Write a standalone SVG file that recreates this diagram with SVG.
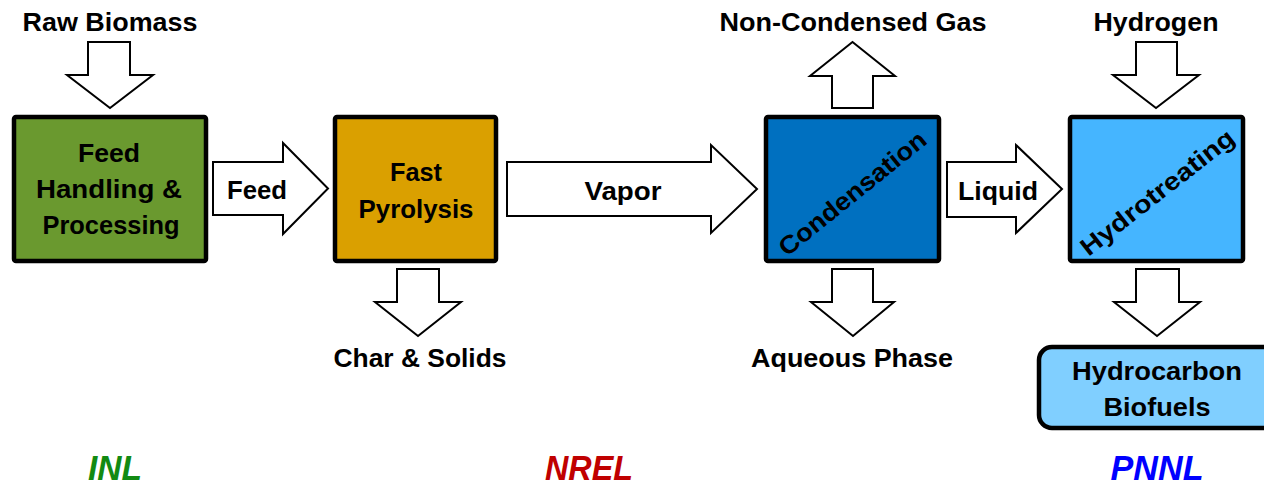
<svg xmlns="http://www.w3.org/2000/svg" width="1264" height="488" viewBox="0 0 1264 488">
<style>
.box{stroke:#000;stroke-width:4.5;}
.arr{fill:#fff;stroke:#000;stroke-width:2;stroke-linejoin:miter;}
.t{font-family:"Liberation Sans",Arial,sans-serif;font-weight:bold;font-size:25px;fill:#000;text-anchor:middle;}
.lab{font-family:"Liberation Sans",Arial,sans-serif;font-weight:bold;font-style:italic;font-size:35px;text-anchor:middle;}
</style>
<rect width="1264" height="488" fill="#fff"/>
<g id="connectors">
<polygon class="arr" points="88,42 130,42 130,75 153,75 110,108 67,75 88,75"/>
<polygon class="arr" points="213,162 283,162 283,143 328,188.5 283,234 283,215 213,215"/>
<polygon class="arr" points="397,269 439,269 439,302 461,302 418,336 375,302 397,302"/>
<polygon class="arr" points="507,162 711,162 711,145 757,189 711,233 711,216 507,216"/>
<polygon class="arr" points="832,108 873,108 873,76 895,76 852.5,42 810,76 832,76"/>
<polygon class="arr" points="832,269 873,269 873,302 894,302 853,336 811,302 832,302"/>
<polygon class="arr" points="947,162 1016,162 1016,145 1062,189 1016,233 1016,217 947,217"/>
<polygon class="arr" points="1136,42 1177,42 1177,75 1199,75 1156,108 1113,75 1136,75"/>
<polygon class="arr" points="1136,269 1179,269 1179,302 1200,302 1157,336 1114,302 1136,302"/>
</g>
<g id="labels">
<text class="t" x="110" y="31" textLength="175" lengthAdjust="spacingAndGlyphs">Raw Biomass</text>
<text class="t" x="257" y="199" textLength="60" lengthAdjust="spacingAndGlyphs">Feed</text>
<text class="t" x="420" y="367" textLength="173" lengthAdjust="spacingAndGlyphs">Char &amp; Solids</text>
<text class="t" x="623" y="200" textLength="77" lengthAdjust="spacingAndGlyphs">Vapor</text>
<text class="t" x="853" y="31" textLength="267" lengthAdjust="spacingAndGlyphs">Non-Condensed Gas</text>
<text class="t" x="852" y="367" textLength="202" lengthAdjust="spacingAndGlyphs">Aqueous Phase</text>
<text class="t" x="998" y="200" textLength="80" lengthAdjust="spacingAndGlyphs">Liquid</text>
<text class="t" x="1156" y="31" textLength="125" lengthAdjust="spacingAndGlyphs">Hydrogen</text>
<text class="lab" x="115" y="480" fill="#128a12" textLength="54" lengthAdjust="spacingAndGlyphs">INL</text>
<text class="lab" x="589" y="480" fill="#c00000" textLength="88" lengthAdjust="spacingAndGlyphs">NREL</text>
<text class="lab" x="1157" y="480" fill="#0000ff" textLength="93" lengthAdjust="spacingAndGlyphs">PNNL</text>
</g>
<g id="feed-handling">
<rect class="box" x="14" y="117" width="192" height="144" rx="2" fill="#6a992f"/>
<text class="t" x="109" y="162" textLength="62" lengthAdjust="spacingAndGlyphs">Feed</text>
<text class="t" x="109" y="198" textLength="146" lengthAdjust="spacingAndGlyphs">Handling &amp;</text>
<text class="t" x="111" y="234" textLength="137" lengthAdjust="spacingAndGlyphs">Processing</text>
</g>
<g id="fast-pyrolysis">
<rect class="box" x="335" y="117" width="161" height="144" rx="2" fill="#daa000"/>
<text class="t" x="416" y="181" textLength="52" lengthAdjust="spacingAndGlyphs">Fast</text>
<text class="t" x="416" y="218" textLength="115" lengthAdjust="spacingAndGlyphs">Pyrolysis</text>
</g>
<g id="condensation">
<rect class="box" x="766" y="117" width="173" height="144" rx="2" fill="#0070c0"/>
<text class="t" transform="translate(852,193) rotate(-39)" x="0" y="9" textLength="182" lengthAdjust="spacingAndGlyphs">Condensation</text>
</g>
<g id="hydrotreating">
<rect class="box" x="1070" y="117" width="173" height="144" rx="2" fill="#45b5ff"/>
<text class="t" transform="translate(1157,192) rotate(-38)" x="0" y="9" textLength="188" lengthAdjust="spacingAndGlyphs">Hydrotreating</text>
</g>
<g id="hydrocarbon-biofuels">
<rect class="box" x="1039" y="347" width="240" height="81" rx="13" fill="#80cfff"/>
<text class="t" x="1157" y="380" textLength="170" lengthAdjust="spacingAndGlyphs">Hydrocarbon</text>
<text class="t" x="1157" y="416" textLength="107" lengthAdjust="spacingAndGlyphs">Biofuels</text>
</g>
</svg>
